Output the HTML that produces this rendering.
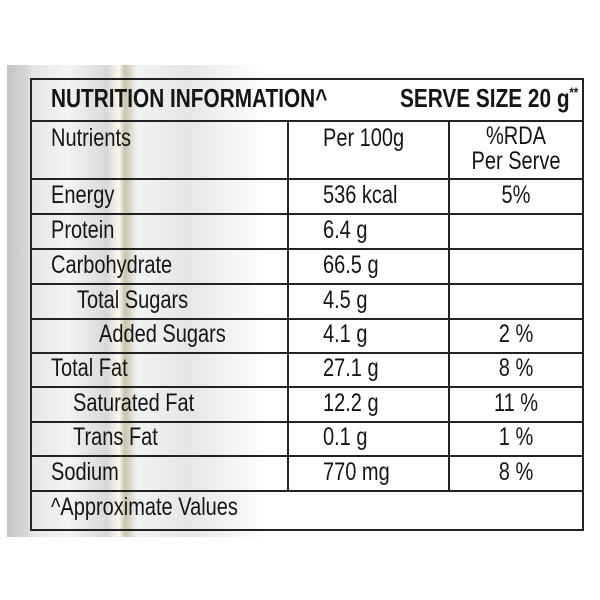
<!DOCTYPE html>
<html><head><meta charset="utf-8"><style>
body{margin:0;width:600px;height:600px;background:#fff;position:relative;overflow:hidden;font-family:"Liberation Sans Narrow","Liberation Sans",sans-serif;color:#151515}
#panel{position:absolute;left:7px;top:65px;width:593px;height:472px;background:linear-gradient(90deg,#c4c4c4 0px,#d6d6d6 20px,#e4e4e4 24px,#f4f4f4 60px,#d9d9d9 100px,#fbf7ea 112px,#c9c3b0 118px,#f2f2f2 130px,#e6e6e6 180px,#fff 260px,#fff 100%)}
#table{position:absolute;left:30px;top:78px;width:550px;height:449px;border:2px solid #222}
.h{position:absolute;left:30px;width:552px;height:0;border-top:2px solid #222}
.v{position:absolute;width:0;border-left:2px solid #222}
.t{position:absolute;font-size:25px;line-height:25px;white-space:nowrap;transform:scaleX(0.8);transform-origin:left top}
.c{transform-origin:center top}
.b{font-weight:bold}
</style></head><body>
<div id="panel"></div>
<div id="table"></div>
<div class="h" style="top:120px"></div>
<div class="h" style="top:178px"></div>
<div class="h" style="top:213px"></div>
<div class="h" style="top:248px"></div>
<div class="h" style="top:283px"></div>
<div class="h" style="top:318px"></div>
<div class="h" style="top:352px"></div>
<div class="h" style="top:386px"></div>
<div class="h" style="top:421px"></div>
<div class="h" style="top:455px"></div>
<div class="h" style="top:490px"></div>
<div class="v" style="left:287px;top:120px;height:370px"></div>
<div class="v" style="left:448px;top:120px;height:370px"></div>

<div class="t b" style="left:51px;top:86px;font-size:26px">NUTRITION INFORMATION^</div>
<div class="t b" style="left:400px;top:86px;font-size:26px">SERVE SIZE 20 g<span style="font-size:14px;position:relative;top:-10px">**</span></div>

<div class="t" style="left:51px;top:126px">Nutrients</div>
<div class="t" style="left:323px;top:126px">Per 100g</div>
<div class="t c" style="left:448px;width:136px;text-align:center;top:124px;line-height:25px">%RDA<br>Per Serve</div>

<div class="t" style="left:51px;top:183px">Energy</div>
<div class="t" style="left:323px;top:183px">536 kcal</div>
<div class="t c" style="left:448px;width:136px;text-align:center;top:183px">5%</div>

<div class="t" style="left:51px;top:218px">Protein</div>
<div class="t" style="left:323px;top:218px">6.4 g</div>

<div class="t" style="left:51px;top:253px">Carbohydrate</div>
<div class="t" style="left:323px;top:253px">66.5 g</div>

<div class="t" style="left:77px;top:288px">Total Sugars</div>
<div class="t" style="left:323px;top:288px">4.5 g</div>

<div class="t" style="left:99px;top:322px">Added Sugars</div>
<div class="t" style="left:323px;top:322px">4.1 g</div>
<div class="t c" style="left:448px;width:136px;text-align:center;top:322px">2 %</div>

<div class="t" style="left:51px;top:356px">Total Fat</div>
<div class="t" style="left:323px;top:356px">27.1 g</div>
<div class="t c" style="left:448px;width:136px;text-align:center;top:356px">8 %</div>

<div class="t" style="left:73px;top:391px">Saturated Fat</div>
<div class="t" style="left:323px;top:391px">12.2 g</div>
<div class="t c" style="left:448px;width:136px;text-align:center;top:391px">11 %</div>

<div class="t" style="left:73px;top:425px">Trans Fat</div>
<div class="t" style="left:323px;top:425px">0.1 g</div>
<div class="t c" style="left:448px;width:136px;text-align:center;top:425px">1 %</div>

<div class="t" style="left:51px;top:460px">Sodium</div>
<div class="t" style="left:323px;top:460px">770 mg</div>
<div class="t c" style="left:448px;width:136px;text-align:center;top:460px">8 %</div>

<div class="t" style="left:51px;top:495px">^Approximate Values</div>
</body></html>
